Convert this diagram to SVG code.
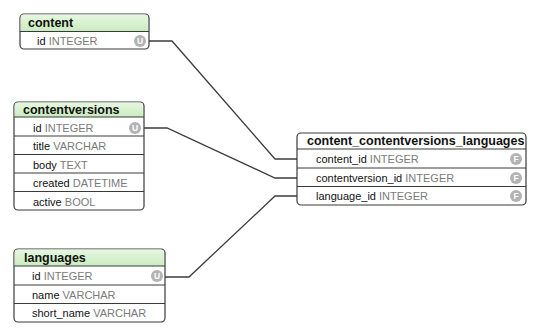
<svg xmlns="http://www.w3.org/2000/svg" width="540" height="336" viewBox="0 0 540 336">
<defs>
<linearGradient id="hg" x1="0" y1="0" x2="0" y2="1">
<stop offset="0" stop-color="#e6f7e0"/>
<stop offset="1" stop-color="#c9ecbf"/>
</linearGradient>
<style>
.box{fill:#fff;stroke:#3a3a3a;stroke-width:1.2}
.hd{fill:url(#hg)}
.sep{stroke:#3a3a3a;stroke-width:1}
.ht{font-family:"Liberation Sans",Arial,sans-serif;font-weight:bold;font-size:12.5px;fill:#111}
.ft{font-family:"Liberation Sans",Arial,sans-serif;font-size:11px;fill:#111}
.ty{fill:#7a7a7a}
.ic{fill:#b3b3b3}
.il{font-family:"Liberation Sans",Arial,sans-serif;font-weight:bold;font-size:8.5px;fill:#fff;text-anchor:middle}
.cn{fill:none;stroke:#3c3c3c;stroke-width:1.3}
</style>
</defs>
<rect width="540" height="336" fill="#fff"/>
<g id="connectors">
<polyline class="cn" points="149,41 172,41 275,159 298,159"/>
<polyline class="cn" points="144,128 167,128 275,178 298,178"/>
<polyline class="cn" points="165,277 189,277 275,196 298,196"/>
</g>
<g id="content">
<rect class="box" x="20" y="14" width="129" height="35" rx="4"/>
<path class="hd" d="M24.6,14.6 h119.8 a3.4,3.4 0 0 1 3.4,3.4 v13.4 h-127.2 v-13.4 a3.4,3.4 0 0 1 3.4,-3.4z"/>
<line class="sep" x1="20" y1="31.5" x2="149" y2="31.5"/>
<text class="ht" x="28" y="27">content</text>
<text class="ft" x="37" y="45">id <tspan class="ty">INTEGER</tspan></text>
<circle class="ic" cx="140" cy="41" r="6"/>
<text class="il" x="140" y="44">U</text>
</g>
<g id="contentversions">
<rect class="box" x="14" y="102" width="130" height="108" rx="4"/>
<path class="hd" d="M18.6,102.6 h120.8 a3.4,3.4 0 0 1 3.4,3.4 v10.9 h-128.2 v-10.9 a3.4,3.4 0 0 1 3.4,-3.4z"/>
<line class="sep" x1="14" y1="117" x2="144" y2="117"/>
<line class="sep" x1="14" y1="136" x2="144" y2="136"/>
<line class="sep" x1="14" y1="154.5" x2="144" y2="154.5"/>
<line class="sep" x1="14" y1="173" x2="144" y2="173"/>
<line class="sep" x1="14" y1="191.5" x2="144" y2="191.5"/>
<text class="ht" x="23" y="114">contentversions</text>
<text class="ft" x="33" y="132">id <tspan class="ty">INTEGER</tspan></text>
<text class="ft" x="33" y="150">title <tspan class="ty">VARCHAR</tspan></text>
<text class="ft" x="33" y="169">body <tspan class="ty">TEXT</tspan></text>
<text class="ft" x="33" y="187">created <tspan class="ty">DATETIME</tspan></text>
<text class="ft" x="33" y="206">active <tspan class="ty">BOOL</tspan></text>
<circle class="ic" cx="135" cy="128" r="6"/>
<text class="il" x="135" y="131">U</text>
</g>
<g id="languages">
<rect class="box" x="14" y="249" width="151" height="73" rx="4"/>
<path class="hd" d="M18.6,249.6 h141.8 a3.4,3.4 0 0 1 3.4,3.4 v13 h-149.2 v-13 a3.4,3.4 0 0 1 3.4,-3.4z"/>
<line class="sep" x1="14" y1="266" x2="165" y2="266"/>
<line class="sep" x1="14" y1="285" x2="165" y2="285"/>
<line class="sep" x1="14" y1="303.5" x2="165" y2="303.5"/>
<text class="ht" x="24" y="262">languages</text>
<text class="ft" x="32" y="280">id <tspan class="ty">INTEGER</tspan></text>
<text class="ft" x="32" y="299">name <tspan class="ty">VARCHAR</tspan></text>
<text class="ft" x="32" y="317">short_name <tspan class="ty">VARCHAR</tspan></text>
<circle class="ic" cx="157" cy="276" r="6"/>
<text class="il" x="157" y="279">U</text>
</g>
<g id="content_contentversions_languages">
<rect class="box" x="297" y="133" width="229" height="72" rx="4"/>
<line class="sep" x1="297" y1="149" x2="526" y2="149"/>
<line class="sep" x1="297" y1="168" x2="526" y2="168"/>
<line class="sep" x1="297" y1="186.5" x2="526" y2="186.5"/>
<text class="ht" x="307" y="145">content_contentversions_languages</text>
<text class="ft" x="316" y="163">content_id <tspan class="ty">INTEGER</tspan></text>
<text class="ft" x="316" y="182">contentversion_id <tspan class="ty">INTEGER</tspan></text>
<text class="ft" x="316" y="200">language_id <tspan class="ty">INTEGER</tspan></text>
<circle class="ic" cx="516" cy="159" r="6"/>
<text class="il" x="516" y="162">F</text>
<circle class="ic" cx="516" cy="178" r="6"/>
<text class="il" x="516" y="181">F</text>
<circle class="ic" cx="516" cy="196" r="6"/>
<text class="il" x="516" y="199">F</text>
</g>
</svg>
